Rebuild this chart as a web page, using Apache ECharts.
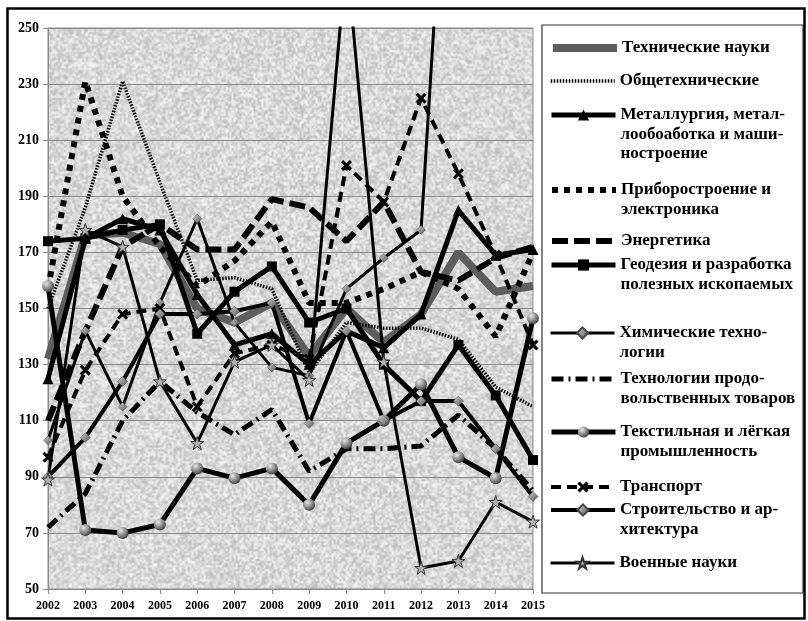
<!DOCTYPE html>
<html>
<head>
<meta charset="utf-8">
<script src="https://cdn.jsdelivr.net/npm/echarts@6/dist/echarts.min.js"></script>
<style>
  html, body { margin: 0; background: #fff; }
  #main { width: 808px; height: 621px; }
</style>
</head>
<body>
<div id="main"></div>
<script>
// years on the x axis
var years = ['2002', '2003', '2004', '2005', '2006', '2007', '2008', '2009', '2010', '2011', '2012', '2013', '2014', '2015'];

// values
var tech      = [132, 176, 177, 173, 150, 145, 152, 133, 150, 138, 148, 170, 156, 158];
var obshch    = [150, 186, 231, 195, 160, 161, 157, 127, 145, 143, 143, 139, 122, 115];
var metal     = [125, 175, 182, 178, 155, 137, 141, 130, 142, 136, 148, 185, 169, 171];
var pribor    = [157, 231, 190, 172, 158, 167, 181, 152, 152, 157, 163, 157, 140, 170];
var energ     = [110, 142, 172, 180, 171, 171, 189, 186, 174, 188, 163, 160, 168, 172];
var geod      = [174, 175, 178, 180, 141, 156, 165, 145, 150, 130, 117, 137, 119, 96];
var chem      = [103, 142, 115, 152, 182, 145, 129, 126, 157, 168, 178, 390, null, null];
var food      = [72, 84, 110, 124, 113, 105, 114, 92, 100, 100, 101, 112, 100, 85];
var textile   = [158, 71, 70, 73, 93, 89.5, 93, 80, 102, 110, 123, 97, 89.5, 146.5];
var transport = [97, 128, 148, 150, 115, 134, 137, 132, 201, 188, 225, 198, 169, 137];
var stroit    = [90, 104, 124, 148, 148, 149, 152, 109, 142, 110, 117, 117, 100, 83];
var military  = [89, 178, 172, 124, 102, 131, 137, 124.5, 276, 131, 57.5, 60, 81, 74];

var names = [
  'Технические науки',
  'Общетехнические',
  'Металлургия, метал-\nлообоаботка и маши-\nностроение',
  'Приборостроение и\nэлектроника',
  'Энергетика',
  'Геодезия и разработка\nполезных ископаемых',
  'Химические техно-\nлогии',
  'Технологии продо-\nвольственных товаров',
  'Текстильная и лёгкая\nпромышленность',
  'Транспорт',
  'Строительство и ар-\nхитектура',
  'Военные науки'
];

// first-line centres of the legend entries
var legendY = [48, 81, 115, 190, 241, 265, 333, 379, 432, 487, 510, 563];
var LH = 19.5;

var font = 'Liberation Serif';

// grainy plot background
function makeGrain(w, h) {
  var sw = Math.ceil(w / 2), sh = Math.ceil(h / 2);
  var small = document.createElement('canvas');
  small.width = sw; small.height = sh;
  var sctx = small.getContext('2d');
  var img = sctx.createImageData(sw, sh);
  var seed = 7;
  for (var i = 0; i < sw * sh; i++) {
    seed = (seed * 16807) % 2147483647;
    var v = 188 + (seed % 58);
    img.data[i * 4] = img.data[i * 4 + 1] = img.data[i * 4 + 2] = v;
    img.data[i * 4 + 3] = 255;
  }
  sctx.putImageData(img, 0, 0);
  var c = document.createElement('canvas');
  c.width = w; c.height = h;
  var ctx = c.getContext('2d');
  ctx.imageSmoothingEnabled = true;
  ctx.drawImage(small, 0, 0, w, h);
  return c;
}
var grain = makeGrain(485, 561);

var sphere = new echarts.graphic.RadialGradient(0.35, 0.3, 0.75, [
  { offset: 0, color: '#e8e8e8' }, { offset: 1, color: '#3c3c3c' }
]);
var gem = new echarts.graphic.LinearGradient(0, 0, 1, 1, [
  { offset: 0, color: '#d0d0d0' }, { offset: 1, color: '#555' }
]);
var xMark = 'path://M2,0 L5,3 L8,0 L10,2 L7,5 L10,8 L8,10 L5,7 L2,10 L0,8 L3,5 L0,2 Z';
var starMark = 'path://M5,0 L6.2,3.6 L10,3.6 L6.9,5.8 L8.1,9.5 L5,7.2 L1.9,9.5 L3.1,5.8 L0,3.6 L3.8,3.6 Z';

function line(name, data, ls, sym) {
  var s = {
    name: name,
    type: 'line',
    data: data,
    clip: true,
    animation: false,
    lineStyle: Object.assign({ color: '#000', cap: 'butt' }, ls),
    symbol: 'none',
    showSymbol: false,
    itemStyle: { color: 'rgba(0,0,0,0)' }
  };
  if (sym) {
    s.symbol = sym.symbol;
    s.symbolSize = sym.size;
    s.showSymbol = true;
    s.itemStyle = { color: sym.color, borderColor: sym.border || sym.color, borderWidth: sym.bw || 0 };
  }
  return s;
}

var series = [
  line(names[0], tech, { color: '#5e5e5e', width: 8 }),
  line(names[1], obshch, { width: 3.5, type: [1.5, 1.5] }),
  line(names[2], metal, { width: 5 }, { symbol: 'triangle', size: 11, color: '#000' }),
  line(names[3], pribor, { width: 6, type: [6, 6] }),
  line(names[4], energ, { width: 6, type: [16, 6] }),
  line(names[5], geod, { width: 5 }, { symbol: 'rect', size: 10, color: '#000' }),
  line(names[6], chem, { width: 3 }, { symbol: 'diamond', size: 9, color: gem, border: '#444', bw: 0.5 }),
  line(names[7], food, { width: 5, type: [12, 5, 2, 5] }),
  line(names[8], textile, { width: 5 }, { symbol: 'circle', size: 12, color: sphere }),
  line(names[9], transport, { width: 4, type: [10, 6] }, { symbol: xMark, size: 11, color: '#000' }),
  line(names[10], stroit, { width: 4 }, { symbol: 'diamond', size: 10, color: gem, border: '#444', bw: 0.5 }),
  line(names[11], military, { width: 3 }, { symbol: starMark, size: 13, color: '#b0b0b0', border: '#333', bw: 1 })
];

var legends = names.map(function (nm, i) {
  var n = nm.split('\n').length;
  var pad = new Array(n).join('\n');
  var ls = series[i].lineStyle;
  return {
    data: [{ name: nm, lineStyle: { width: ls.width, type: ls.type || 'solid', color: ls.color } }],
    formatter: function (name) { return pad + name; },
    left: 549,
    top: legendY[i] - (2 * n - 1) * LH / 2,
    orient: 'vertical',
    padding: 0,
    itemWidth: 64,
    itemHeight: 14,
    selectedMode: false,
    textStyle: { fontFamily: font, fontWeight: 'bold', fontSize: 17, color: '#000', lineHeight: LH }
  };
});

var chart = echarts.init(document.getElementById('main'));
chart.setOption({
  animation: false,
  backgroundColor: '#fff',
  graphic: [
    { type: 'image', z: -1, style: { image: grain, x: 48, y: 28, width: 485, height: 561 } },
    { type: 'rect', shape: { x: 542, y: 25, width: 261, height: 568 }, style: { fill: '#fff', stroke: '#333', lineWidth: 1.2 } },
    { type: 'rect', shape: { x: 7.5, y: 8.5, width: 797, height: 610 }, style: { fill: 'none', stroke: '#000', lineWidth: 2.5 } }
  ],
  grid: { left: 48, right: 275, top: 28, bottom: 32, show: true, borderColor: '#8a8a8a', borderWidth: 1 },
  legend: legends,
  xAxis: {
    type: 'category',
    data: years,
    boundaryGap: false,
    axisLine: { lineStyle: { color: '#8a8a8a' } },
    axisTick: { show: true, length: 5, lineStyle: { color: '#8a8a8a' } },
    axisLabel: { fontFamily: font, fontWeight: 'bold', fontSize: 12, color: '#000', margin: 11 },
    splitLine: { show: false }
  },
  yAxis: {
    type: 'value',
    min: 50,
    max: 250,
    interval: 20,
    axisLine: { show: true, lineStyle: { color: '#8a8a8a' } },
    axisTick: { show: true, length: 5, lineStyle: { color: '#8a8a8a' } },
    axisLabel: { fontFamily: font, fontWeight: 'bold', fontSize: 14, color: '#000', margin: 9 },
    splitLine: { lineStyle: { color: '#8a8a8a', width: 1 } }
  },
  series: series
});
</script>
</body>
</html>
